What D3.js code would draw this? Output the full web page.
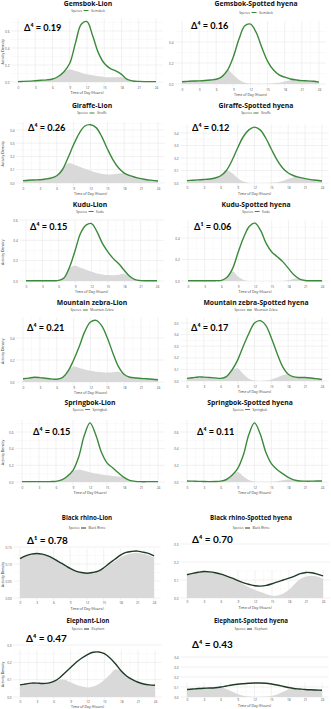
<!DOCTYPE html>
<html>
<head>
<meta charset="utf-8">
<script src="https://cdn.jsdelivr.net/npm/d3@7"></script>
<style>
body { margin: 0; background: #fff; }
svg { display: block; }
</style>
</head>
<body>
<svg id="chart" width="331" height="709"></svg>
<script>
// ---- data ----
var hours = [0,1,2,3,4,5,6,7,8,9,10,11,12,13,14,15,16,17,18,19,20,21,22,23,24];
var xTicks = [0,3,6,9,12,15,18,21,24];

var titles = ['Gemsbok-Lion','Gemsbok-Spotted hyena','Giraffe-Lion','Giraffe-Spotted hyena',
	'Kudu-Lion','Kudu-Spotted hyena','Mountain zebra-Lion','Mountain zebra-Spotted hyena',
	'Springbok-Lion','Springbok-Spotted hyena','Black rhino-Lion','Black rhino-Spotted hyena',
	'Elephant-Lion','Elephant-Spotted hyena'];
var species = ['Gemsbok','Gemsbok','Giraffe','Giraffe','Kudu','Kudu','Mountain Zebra','Mountain Zebra',
	'Springbok','Springbok','Black Rhino','Black Rhino','Elephant','Elephant'];
var deltas = ['Δ⁴ = 0.19','Δ⁴ = 0.16','Δ⁴ = 0.26','Δ⁴ = 0.12','Δ⁴ = 0.15','Δ¹ = 0.06','Δ⁴ = 0.21','Δ⁴ = 0.17',
	'Δ⁴ = 0.15','Δ⁴ = 0.11','Δ¹ = 0.78','Δ⁴ = 0.70','Δ⁴ = 0.47','Δ⁴ = 0.43'];
var yTicks = [[0,0.2,0.4,0.6],[0,0.2,0.4],[0,0.1,0.2,0.3,0.4],[0,0.1,0.2,0.3,0.4],
	[0,0.2,0.4,0.6],[0,0.2,0.4],[0,0.2,0.4],[0,0.1,0.2,0.3,0.4,0.5],
	[0,0.2,0.4,0.6],[0,0.2,0.4,0.6],[0,0.05,0.10,0.15],[0,0.1,0.2,0.3],
	[0,0.1,0.2,0.3],[0,0.1,0.2,0.3,0.4]];

// activity density of the prey (line) and the overlap region (grey)
var gemsbokLion        = [0.005,0.007,0.01,0.015,0.02,0.025,0.035,0.065,0.12,0.22,0.46,0.68,0.71,0.54,0.34,0.22,0.16,0.13,0.09,0.03,0.012,0.007,0.005,0.005,0.005];
var gemsbokLionOv      = [0.005,0.007,0.01,0.015,0.02,0.025,0.035,0.065,0.12,0.15,0.13,0.11,0.09,0.078,0.068,0.06,0.056,0.056,0.058,0.03,0.012,0.007,0.005,0.005,0.005];
var gemsbokHyena       = [0.022,0.025,0.028,0.03,0.033,0.038,0.045,0.07,0.135,0.26,0.43,0.555,0.57,0.49,0.345,0.216,0.135,0.087,0.065,0.048,0.039,0.032,0.03,0.026,0.018];
var gemsbokHyenaOv     = [0.022,0.025,0.028,0.03,0.033,0.038,0.045,0.07,0.135,0.085,0.04,0.012,0.004,0.002,0.002,0.003,0.006,0.012,0.024,0.036,0.039,0.032,0.03,0.026,0.018];
var giraffeLion        = [0.018,0.021,0.023,0.025,0.03,0.038,0.055,0.1,0.19,0.29,0.375,0.43,0.44,0.418,0.35,0.258,0.175,0.113,0.075,0.055,0.043,0.033,0.025,0.02,0.015];
var giraffeLionOv      = [0.018,0.021,0.023,0.025,0.03,0.038,0.055,0.1,0.15,0.14,0.125,0.108,0.093,0.08,0.07,0.065,0.066,0.072,0.075,0.055,0.043,0.033,0.025,0.02,0.015];
var giraffeHyena       = [0.019,0.022,0.025,0.028,0.032,0.04,0.058,0.1,0.18,0.28,0.37,0.425,0.447,0.425,0.36,0.27,0.185,0.12,0.08,0.058,0.045,0.035,0.027,0.022,0.016];
var giraffeHyenaOv     = [0.019,0.022,0.025,0.028,0.032,0.04,0.058,0.1,0.08,0.04,0.012,0.003,0.001,0.001,0.001,0.002,0.006,0.016,0.032,0.047,0.045,0.035,0.027,0.022,0.016];
var kuduLion           = [0.002,0.002,0.002,0.002,0.002,0.003,0.006,0.033,0.14,0.3,0.47,0.55,0.565,0.485,0.37,0.287,0.22,0.17,0.105,0.046,0.013,0.004,0.002,0.002,0.002];
var kuduLionOv         = [0.002,0.002,0.002,0.002,0.002,0.003,0.006,0.033,0.13,0.15,0.13,0.11,0.09,0.075,0.065,0.058,0.057,0.062,0.07,0.046,0.013,0.004,0.002,0.002,0.002];
var kuduHyena          = [0.002,0.002,0.002,0.002,0.002,0.003,0.006,0.034,0.117,0.27,0.41,0.51,0.538,0.47,0.35,0.27,0.225,0.178,0.117,0.055,0.018,0.005,0.002,0.002,0.002];
var kuduHyenaOv        = [0.002,0.002,0.002,0.002,0.002,0.003,0.006,0.034,0.09,0.04,0.01,0.001,0,0,0,0,0,0.001,0.006,0.022,0.018,0.005,0.002,0.002,0.002];
var zebraLion          = [0.03,0.035,0.043,0.04,0.034,0.028,0.025,0.04,0.098,0.2,0.323,0.46,0.545,0.56,0.51,0.4,0.26,0.138,0.068,0.043,0.037,0.032,0.03,0.025,0.02];
var zebraLionOv        = [0.03,0.035,0.043,0.04,0.034,0.028,0.025,0.04,0.098,0.14,0.128,0.113,0.102,0.094,0.089,0.087,0.089,0.093,0.068,0.043,0.037,0.032,0.03,0.025,0.02];
var zebraHyena         = [0.023,0.028,0.035,0.033,0.03,0.027,0.023,0.038,0.095,0.18,0.3,0.41,0.5,0.52,0.48,0.37,0.24,0.124,0.058,0.035,0.03,0.03,0.026,0.02,0.014];
var zebraHyenaOv       = [0.023,0.028,0.035,0.033,0.03,0.027,0.023,0.038,0.095,0.11,0.06,0.02,0.004,0.001,0.004,0.014,0.03,0.05,0.058,0.035,0.03,0.03,0.026,0.02,0.014];
var springbokLion      = [0.004,0.004,0.004,0.004,0.004,0.005,0.008,0.025,0.07,0.14,0.3,0.56,0.71,0.57,0.36,0.23,0.17,0.11,0.055,0.02,0.007,0.004,0.004,0.004,0.004];
var springbokLionOv    = [0.004,0.004,0.004,0.004,0.004,0.005,0.008,0.025,0.07,0.13,0.15,0.135,0.118,0.102,0.09,0.08,0.072,0.065,0.055,0.02,0.007,0.004,0.004,0.004,0.004];
var springbokHyena     = [0.012,0.01,0.008,0.006,0.005,0.006,0.01,0.03,0.08,0.16,0.32,0.57,0.71,0.58,0.36,0.22,0.15,0.1,0.055,0.025,0.012,0.01,0.01,0.012,0.012];
var springbokHyenaOv   = [0.012,0.01,0.008,0.006,0.005,0.006,0.01,0.03,0.08,0.12,0.07,0.025,0.006,0.002,0.002,0.004,0.01,0.02,0.03,0.025,0.012,0.01,0.01,0.012,0.012];
var rhinoLion          = [0.116,0.124,0.129,0.131,0.129,0.124,0.116,0.106,0.097,0.087,0.079,0.075,0.073,0.075,0.079,0.089,0.102,0.114,0.126,0.134,0.137,0.138,0.135,0.131,0.124];
var rhinoLionOv        = [0.116,0.124,0.129,0.131,0.129,0.124,0.116,0.106,0.097,0.087,0.079,0.075,0.073,0.075,0.078,0.086,0.097,0.108,0.119,0.127,0.131,0.132,0.13,0.126,0.119];
var rhinoHyena         = [0.129,0.137,0.143,0.147,0.145,0.14,0.133,0.122,0.11,0.096,0.084,0.075,0.068,0.066,0.07,0.079,0.09,0.1,0.11,0.122,0.135,0.142,0.14,0.133,0.123];
var rhinoHyenaOv       = [0.125,0.135,0.143,0.147,0.145,0.14,0.133,0.122,0.11,0.094,0.075,0.058,0.045,0.033,0.021,0.013,0.014,0.025,0.046,0.078,0.105,0.12,0.124,0.12,0.107];
var elephantLion       = [0.07,0.075,0.08,0.08,0.078,0.08,0.09,0.11,0.14,0.17,0.2,0.225,0.245,0.258,0.26,0.25,0.225,0.19,0.15,0.12,0.1,0.085,0.075,0.07,0.068];
var elephantLionOv     = [0.07,0.075,0.08,0.08,0.078,0.08,0.09,0.1,0.1,0.085,0.07,0.06,0.055,0.06,0.075,0.1,0.13,0.16,0.15,0.12,0.1,0.085,0.075,0.07,0.068];
var elephantHyena      = [0.075,0.08,0.085,0.088,0.09,0.093,0.1,0.11,0.12,0.128,0.133,0.137,0.14,0.14,0.137,0.13,0.12,0.108,0.095,0.085,0.08,0.075,0.072,0.07,0.068];
var elephantHyenaOv    = [0.075,0.08,0.085,0.088,0.09,0.093,0.095,0.08,0.055,0.03,0.012,0.004,0.002,0.002,0.004,0.01,0.025,0.05,0.075,0.085,0.08,0.075,0.072,0.07,0.068];

var lines = [gemsbokLion,gemsbokHyena,giraffeLion,giraffeHyena,kuduLion,kuduHyena,zebraLion,zebraHyena,
	springbokLion,springbokHyena,rhinoLion,rhinoHyena,elephantLion,elephantHyena];
var overlaps = [gemsbokLionOv,gemsbokHyenaOv,giraffeLionOv,giraffeHyenaOv,kuduLionOv,kuduHyenaOv,zebraLionOv,zebraHyenaOv,
	springbokLionOv,springbokHyenaOv,rhinoLionOv,rhinoHyenaOv,elephantLionOv,elephantHyenaOv];

// ---- layout of each small plot (pixels) ----
// x0/x24: pixel of hour 0 / 24, y0: pixel of density 0, yt: pixel of the top tick,
// tx/ty: title centre, ly: legend centre, dx/dy: delta label start / baseline
var frames = [
	{x0:18,  x24:156, y0:82,  yt:31,  tx:88,  ty:4,   ly:10.5, dx:24,  dy:31},
	{x0:182, x24:319, y0:84,  yt:42,  tx:256, ty:4,   ly:12.5, dx:191, dy:29},
	{x0:23,  x24:158, y0:183, yt:130, tx:92,  ty:105.5, ly:113, dx:28,  dy:131},
	{x0:187, x24:322, y0:183, yt:133, tx:256, ty:106, ly:113, dx:192, dy:131},
	{x0:26,  x24:157, y0:281, yt:220, tx:90,  ty:204.5, ly:211.5, dx:30,  dy:230},
	{x0:188, x24:322, y0:281, yt:238, tx:256, ty:204.5, ly:211.5, dx:194, dy:230},
	{x0:23,  x24:158, y0:382, yt:338, tx:92,  ty:302.5, ly:310, dx:27,  dy:331},
	{x0:187, x24:322, y0:381, yt:323, tx:256, ty:302.5, ly:310, dx:191, dy:331},
	{x0:22,  x24:158, y0:482, yt:432, tx:90,  ty:402.5, ly:409.5, dx:33,  dy:435},
	{x0:187, x24:322, y0:482, yt:432, tx:250, ty:402.5, ly:409.5, dx:197, dy:435},
	{x0:20,  x24:154, y0:598, yt:547, tx:87,  ty:518, ly:528, dx:27,  dy:544},
	{x0:187, x24:323, y0:598, yt:544, tx:251, ty:518, ly:528, dx:192, dy:543},
	{x0:20,  x24:155, y0:697, yt:645, tx:88,  ty:621, ly:629, dx:26,  dy:642},
	{x0:187, x24:322, y0:697, yt:657, tx:251, ty:621, ly:629, dx:192, dy:648}
];

var svg = d3.select('#chart');

titles.forEach(function(title, i) {
	var f = frames[i];
	var line = lines[i], ov = overlaps[i];
	var ticks = yTicks[i];
	var dark = i >= 10;
	var lineColor = dark ? '#1f3b26' : '#3b8a3b';

	var x = d3.scaleLinear().domain([0, 24]).range([f.x0, f.x24]);
	var y = d3.scaleLinear().domain([0, ticks[ticks.length - 1]]).range([f.y0, f.yt]);

	var ymax = d3.max(line);
	var pad = ymax * 0.05;
	var left = x(-1.2), right = x(25.2), top = y(ymax + pad), bottom = y(-pad);

	var g = svg.append('g');

	// minor grid
	var xMinor = xTicks.slice(0, -1).map(function(t) { return t + 1.5; });
	var step = ticks[1] - ticks[0];
	var yMinor = ticks.map(function(t) { return t + step / 2; }).filter(function(t) { return y(t) > top; });
	g.selectAll('.xmin').data(xMinor).enter().append('line')
		.attr('x1', x).attr('x2', x).attr('y1', top).attr('y2', bottom)
		.attr('stroke', '#f3f3f3').attr('stroke-width', 0.4);
	g.selectAll('.ymin').data(yMinor).enter().append('line')
		.attr('x1', left).attr('x2', right).attr('y1', y).attr('y2', y)
		.attr('stroke', '#f3f3f3').attr('stroke-width', 0.4);
	// major grid
	g.selectAll('.xmaj').data(xTicks).enter().append('line')
		.attr('x1', x).attr('x2', x).attr('y1', top).attr('y2', bottom)
		.attr('stroke', '#e8e8e8').attr('stroke-width', 0.6);
	g.selectAll('.ymaj').data(ticks).enter().append('line')
		.attr('x1', left).attr('x2', right).attr('y1', y).attr('y2', y)
		.attr('stroke', '#e8e8e8').attr('stroke-width', 0.6);

	// overlap area
	var area = d3.area()
		.x(function(d, k) { return x(hours[k]); })
		.y0(y(0))
		.y1(function(d) { return y(Math.max(0, d)); })
		.curve(d3.curveCatmullRom);
	g.append('path').attr('d', area(ov)).attr('fill', '#d9d9d9');

	// prey activity line
	var path = d3.line()
		.x(function(d, k) { return x(hours[k]); })
		.y(function(d) { return y(d); })
		.curve(d3.curveCatmullRom);
	g.append('path').attr('d', path(line)).attr('fill', 'none')
		.attr('stroke', lineColor).attr('stroke-width', 1.4);

	// axes
	var fmt = d3.format(i === 10 ? '.2f' : '.1f');
	var xAxis = d3.axisBottom(x).tickValues(xTicks).tickSize(0).tickPadding(1.4);
	var yAxis = d3.axisLeft(y).tickValues(ticks).tickFormat(fmt).tickSize(0).tickPadding(1.6);
	var gx = g.append('g').attr('transform', 'translate(0,' + bottom + ')').call(xAxis);
	var gy = g.append('g').attr('transform', 'translate(' + left + ',0)').call(yAxis);
	[gx, gy].forEach(function(a) {
		a.select('.domain').remove();
		a.selectAll('text').attr('font-family', 'Open Sans, sans-serif').attr('font-size', 3.2).attr('fill', '#555');
	});

	g.append('text')
		.attr('x', (f.x0 + f.x24) / 2).attr('y', bottom + 9.2)
		.attr('text-anchor', 'middle')
		.attr('font-family', 'Open Sans, sans-serif').attr('font-size', 3.6).attr('fill', '#333')
		.text('Time of Day (Hours)');
	if (i % 2 === 0) {
		g.append('text')
			.attr('transform', 'translate(4,' + ((top + bottom) / 2) + ') rotate(-90)')
			.attr('text-anchor', 'middle')
			.attr('font-family', 'Open Sans, sans-serif').attr('font-size', 3.6).attr('fill', '#333')
			.text('Activity Density');
	}

	// title (ty is the visual centre of the capitals)
	var tsize = i >= 10 ? 6.2 : 6.8;
	g.append('text')
		.attr('x', f.tx).attr('y', f.ty + tsize * 0.36)
		.attr('text-anchor', 'middle')
		.attr('font-family', 'Open Sans, sans-serif').attr('font-weight', 700)
		.attr('font-size', tsize).attr('fill', '#111')
		.text(title);

	// legend
	var lg = g.append('g').attr('font-family', 'Open Sans, sans-serif').attr('font-size', 3.1).attr('fill', '#444');
	var t1 = lg.append('text').attr('y', f.ly + 1.1).text('Species');
	var w1 = t1.node().getComputedTextLength();
	var t2 = lg.append('text').attr('y', f.ly + 1.1).text(species[i]);
	var w2 = t2.node().getComputedTextLength();
	var total = w1 + 2 + 5 + 2 + w2;
	var lx = f.tx - total / 2;
	t1.attr('x', lx);
	lg.append('line').attr('x1', lx + w1 + 1.5).attr('x2', lx + w1 + 6.5)
		.attr('y1', f.ly).attr('y2', f.ly).attr('stroke', lineColor).attr('stroke-width', 1);
	t2.attr('x', lx + w1 + 9);

	// overlap coefficient
	g.append('text')
		.attr('x', f.dx).attr('y', f.dy)
		.attr('font-family', 'Lato, sans-serif').attr('font-weight', 700)
		.attr('font-size', i >= 10 ? 10 : 9.2).attr('fill', '#000')
		.text(deltas[i]);
});
</script>
</body>
</html>
